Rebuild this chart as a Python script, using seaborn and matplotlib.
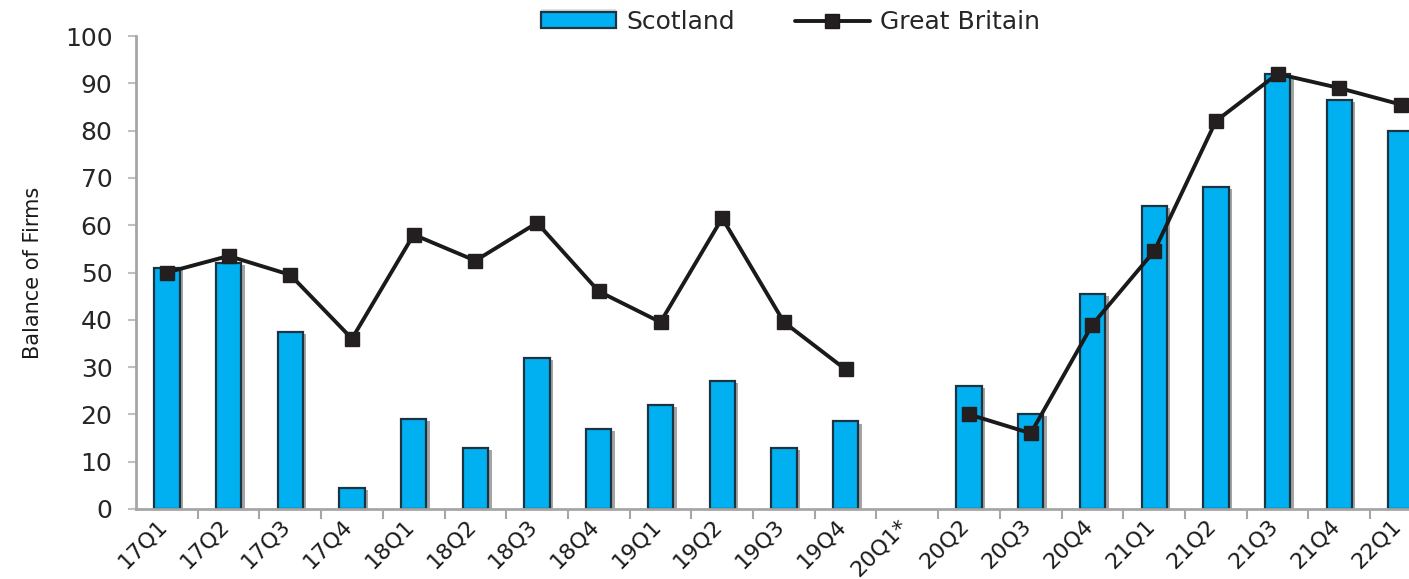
import numpy as np
import pandas as pd
import matplotlib
matplotlib.use("Agg")
import matplotlib.pyplot as plt
import matplotlib.patheffects as pe
import matplotlib.transforms as mtransforms
from matplotlib.patches import Patch
from matplotlib.lines import Line2D
import seaborn as sns

quarters = ["17Q1", "17Q2", "17Q3", "17Q4", "18Q1", "18Q2", "18Q3", "18Q4",
            "19Q1", "19Q2", "19Q3", "19Q4", "20Q1*", "20Q2", "20Q3", "20Q4",
            "21Q1", "21Q2", "21Q3", "21Q4", "22Q1"]
scotland = [51, 52, 37.5, 4.5, 19, 13, 32, 17, 22, 27, 13, 18.5, np.nan,
            26, 20, 45.5, 64, 68, 92, 86.5, 80]
great_britain = [50, 53.5, 49.5, 36, 58, 52.5, 60.5, 46, 39.5, 61.5, 39.5, 29.5,
                 np.nan, 20, 16, 39, 54.5, 82, 92, 89, 85.5]
y_ticks = list(range(0, 101, 10))

df = pd.DataFrame({"quarter": quarters, "Scotland": scotland,
                   "Great Britain": great_britain})

sns.set_theme(style="white")
plt.rcParams["font.family"] = ["DejaVu Sans"]

fig = plt.figure(figsize=(14.09, 5.79), dpi=100)
ax = fig.add_axes([136 / 1409, 1 - 509 / 579, 1 - 136 / 1409, (509 - 36) / 579])

cyan = "#00B0F0"
edge = "#1C3442"
sns.barplot(data=df, x="quarter", y="Scotland", color=cyan, width=0.41,
            edgecolor=edge, linewidth=1.6, saturation=1, ax=ax, zorder=2)
for p in ax.patches:
    p.set_path_effects([pe.SimplePatchShadow(offset=(2.5, -1.5),
                                             shadow_rgbFace="#9a9a9a", alpha=0.9),
                        pe.Normal()])

x = np.arange(len(quarters))
ax.plot(x, df["Great Britain"], color="#1a1a1a", lw=2.8, marker="s",
        markersize=9.5, markerfacecolor="#231f20", markeredgecolor="#231f20",
        zorder=3)

ax.set_yticks(y_ticks)
ax.set_yticklabels([str(v) for v in y_ticks], fontsize=18, color="#262626")
ax.set_xticks(x)
ax.set_xticklabels(quarters, rotation=45, ha="right", va="top",
                   rotation_mode="anchor", fontsize=16, color="#1a1a1a")
ax.set_xticks(np.arange(len(quarters) - 1) + 0.5, minor=True)
ax.tick_params(axis="x", which="major", length=0, pad=5)
ax.tick_params(axis="x", which="minor", length=7, width=1.5, color="#a6a6a6",
               direction="out", bottom=True)
ax.tick_params(axis="y", length=6, width=1.5, color="#c0c0c0", direction="out",
               left=True, pad=11)
ax.set_xlim(-0.5, 20.13)
ax.set_ylim(0, 100)

for s in ["top", "right"]:
    ax.spines[s].set_visible(False)
for s in ["left", "bottom"]:
    ax.spines[s].set_color("#a6a6a6")
    ax.spines[s].set_linewidth(2)

ax.set_xlabel("")
ax.set_ylabel("Balance of Firms", fontsize=15, color="#1a1a1a", labelpad=16)

handles = [Patch(facecolor=cyan, edgecolor=edge, linewidth=1.6,
                 path_effects=[pe.SimplePatchShadow(offset=(0, 2),
                                                    shadow_rgbFace="#9a9a9a"),
                               pe.Normal()]),
           Line2D([0], [0], color="#1a1a1a", lw=2.8, marker="s", markersize=9.5,
                  markerfacecolor="#231f20")]
fig.legend(handles, ["Scotland", "Great Britain"], loc="center",
           bbox_to_anchor=(0.561, 0.962), ncol=2, frameon=False, fontsize=18,
           handlelength=3.0, handleheight=0.6, columnspacing=2.4,
           handletextpad=0.4)

# shift rotated tick labels slightly left (after all tick_params calls)
shift = mtransforms.ScaledTranslation(-0.10, 0, fig.dpi_scale_trans)
for tick in ax.xaxis.get_major_ticks():
    tick.label1.set_transform(tick.label1.get_transform() + shift)

fig.savefig("out.png", dpi=100)
